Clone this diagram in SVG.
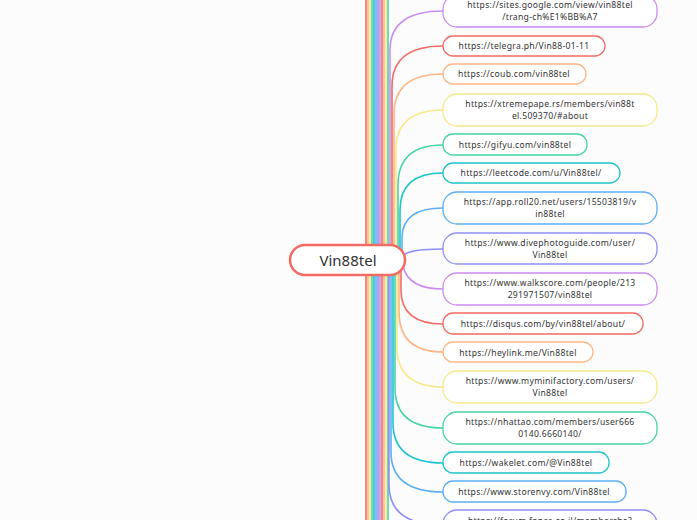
<svg xmlns="http://www.w3.org/2000/svg" width="697" height="520" viewBox="0 0 697 520">
<style>
.n{fill:#fff;stroke-width:1.3}
.t{font-family:"Noto Sans",sans-serif;font-size:8.6px;fill:#333;text-anchor:middle;letter-spacing:0.3px}
.c{fill:none;stroke-width:1.6}
.r{stroke:#f26b62}.o{stroke:#ffb584}.y{stroke:#f7e98a}.g{stroke:#45d4a6}.tl{stroke:#1cc4cc}.b{stroke:#5caef5}.i{stroke:#8e8ef7}.p{stroke:#c98cf0}
</style>
<rect width="697" height="520" fill="#fcfcfc"/>
<g id="connectors">
<path class="c r" d="M366 0V520"/><path class="c o" d="M368 0V520"/><path class="c y" d="M370 0V520"/><path class="c g" d="M372 0V520"/><path class="c tl" d="M374 0V520"/><path class="c b" d="M376 0V520"/><path class="c i" d="M378 0V520"/><path class="c p" d="M380 0V520"/><path class="c r" d="M382 0V520"/><path class="c o" d="M384 0V520"/><path class="c y" d="M386 0V520"/><path class="c g" d="M388 0V520"/>
<path class="c p" d="M390 260L390 50Q390 11 443 11"/>
<path class="c r" d="M392 260L392 86Q392 46 443 46"/>
<path class="c o" d="M394 260L394 114Q394 74 443 74"/>
<path class="c y" d="M396 260L396 150Q396 110 443 110"/>
<path class="c g" d="M398 260L398 185Q398 145 443 145"/>
<path class="c tl" d="M400 255L400 210Q400 173 443 173"/>
<path class="c b" d="M402 252L402 238Q402 208 443 208"/>
<path class="c i" d="M403 256Q408 249 443 249"/>
<path class="c p" d="M403 266Q408 289 443 289"/>
<path class="c r" d="M401 268L401 290Q401 324 443 324"/>
<path class="c o" d="M399 262L399 312Q399 352 443 352"/>
<path class="c y" d="M397 260L397 347Q397 387 443 387"/>
<path class="c g" d="M395 260L395 388Q395 428 443 428"/>
<path class="c tl" d="M393 260L393 423Q393 463 443 463"/>
<path class="c b" d="M391 260L391 452Q391 492 443 492"/>
<path class="c i" d="M389 260L389 485Q389 525 443 525"/>
</g>
<g id="center"><rect x="290" y="245" width="115" height="30" rx="15" fill="#fff" stroke="#f26b62" stroke-width="2.5"/><text x="348" y="266" font-family="Noto Sans,sans-serif" font-size="15" fill="#333" text-anchor="middle">Vin88tel</text></g>
<g id="n1"><rect class="n p" x="443" y="-5" width="214" height="32" rx="14"/><text class="t" x="550" y="8">https://sites.google.com/view/vin88tel</text><text class="t" x="550" y="20">/trang-ch%E1%BB%A7</text></g>
<g id="n2"><rect class="n r" x="443" y="36" width="162" height="20" rx="10"/><text class="t" x="524" y="49">https://telegra.ph/Vin88-01-11</text></g>
<g id="n3"><rect class="n o" x="443" y="64" width="143" height="20" rx="10"/><text class="t" x="514" y="77">https://coub.com/vin88tel</text></g>
<g id="n4"><rect class="n y" x="443" y="94" width="214" height="32" rx="14"/><text class="t" x="550" y="107">https://xtremepape.rs/members/vin88t</text><text class="t" x="550" y="119">el.509370/#about</text></g>
<g id="n5"><rect class="n g" x="443" y="134" width="144" height="21" rx="10"/><text class="t" x="515" y="148">https://gifyu.com/vin88tel</text></g>
<g id="n6"><rect class="n tl" x="443" y="163" width="177" height="20" rx="10"/><text class="t" x="531" y="176">https://leetcode.com/u/Vin88tel/</text></g>
<g id="n7"><rect class="n b" x="443" y="192" width="214" height="32" rx="14"/><text class="t" x="550" y="205">https://app.roll20.net/users/15503819/v</text><text class="t" x="550" y="217">in88tel</text></g>
<g id="n8"><rect class="n i" x="443" y="233" width="214" height="31" rx="14"/><text class="t" x="550" y="246">https://www.divephotoguide.com/user/</text><text class="t" x="550" y="258">Vin88tel</text></g>
<g id="n9"><rect class="n p" x="443" y="273" width="214" height="32" rx="14"/><text class="t" x="550" y="286">https://www.walkscore.com/people/213</text><text class="t" x="550" y="298">291971507/vin88tel</text></g>
<g id="n10"><rect class="n r" x="443" y="313" width="200" height="21" rx="10"/><text class="t" x="543" y="327">https://disqus.com/by/vin88tel/about/</text></g>
<g id="n11"><rect class="n o" x="443" y="342" width="150" height="20" rx="10"/><text class="t" x="518" y="356">https://heylink.me/Vin88tel</text></g>
<g id="n12"><rect class="n y" x="443" y="371" width="214" height="32" rx="14"/><text class="t" x="550" y="384">https://www.myminifactory.com/users/</text><text class="t" x="550" y="396">Vin88tel</text></g>
<g id="n13"><rect class="n g" x="443" y="412" width="214" height="32" rx="14"/><text class="t" x="550" y="425">https://nhattao.com/members/user666</text><text class="t" x="550" y="437">0140.6660140/</text></g>
<g id="n14"><rect class="n tl" x="443" y="452" width="166" height="21" rx="10"/><text class="t" x="526" y="466">https://wakelet.com/@Vin88tel</text></g>
<g id="n15"><rect class="n b" x="443" y="481" width="183" height="21" rx="10"/><text class="t" x="534" y="495">https://www.storenvy.com/Vin88tel</text></g>
<g id="n16"><rect class="n i" x="443" y="510" width="214" height="32" rx="14"/><text class="t" x="550" y="524">https://forum.fonza.co.il/memberche?</text></g>
</svg>
